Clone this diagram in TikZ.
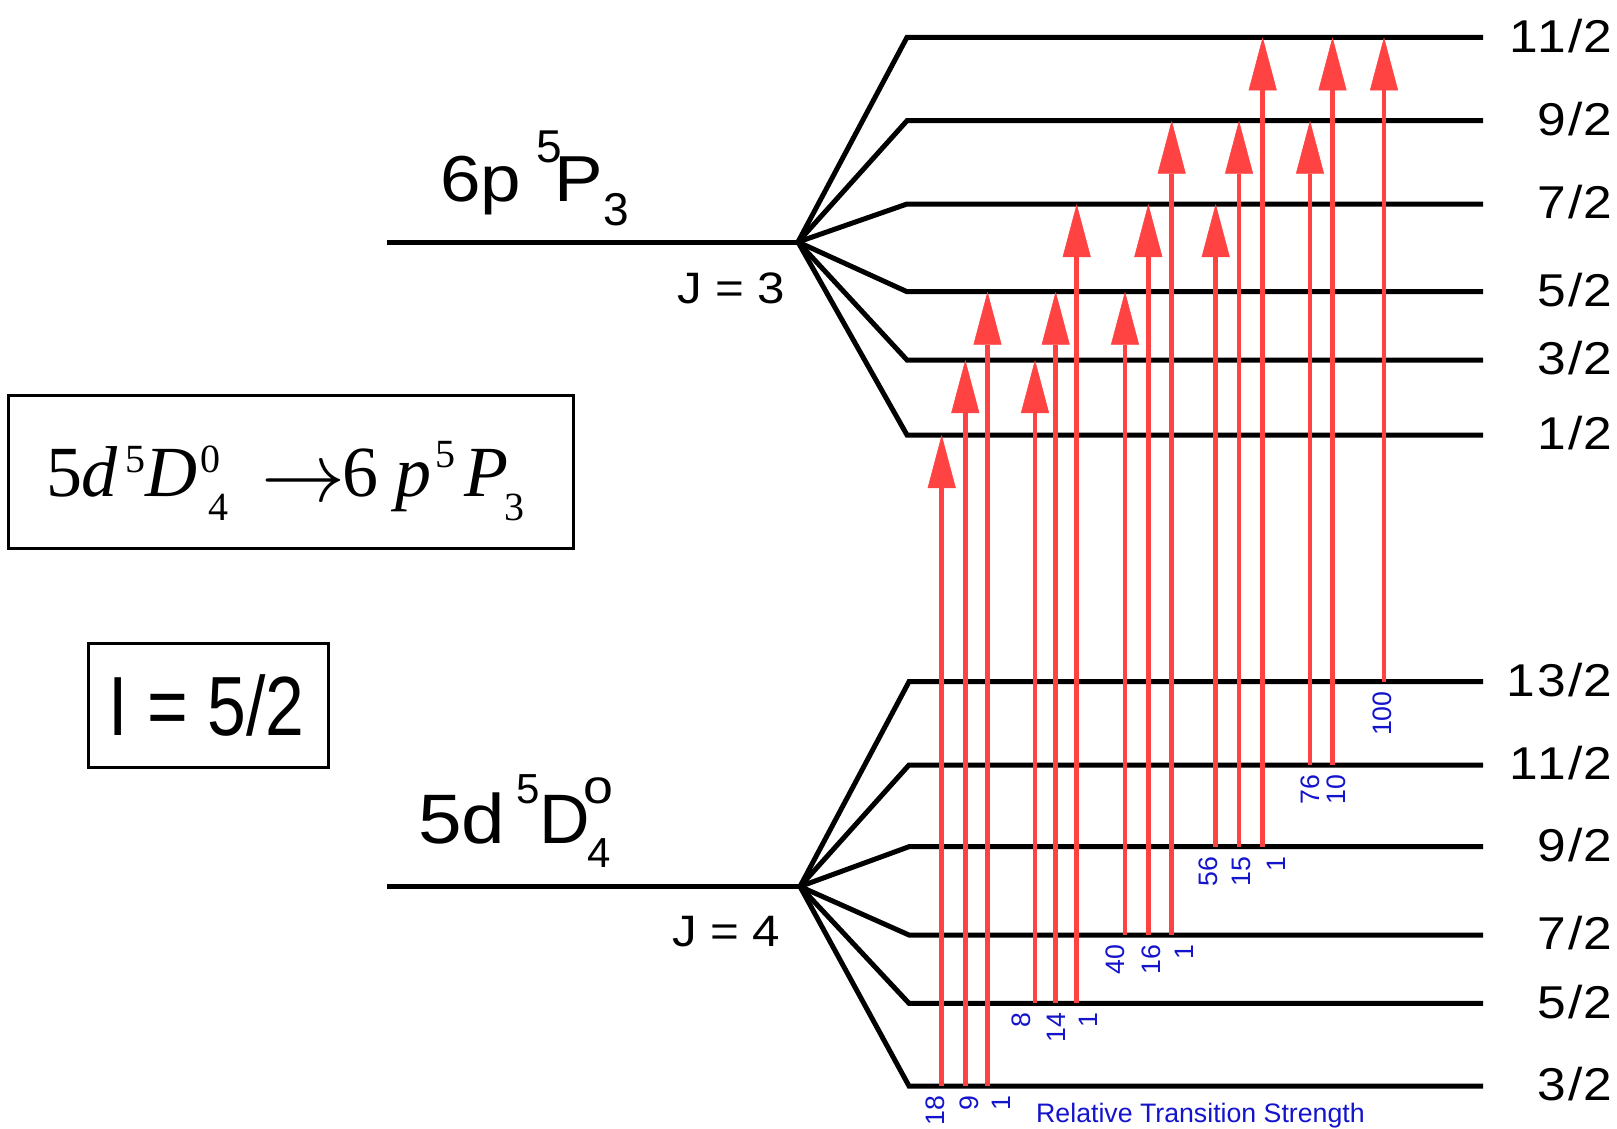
\documentclass[tikz,border=0pt]{standalone}
\usepackage{fontspec}
\usepackage{graphicx}
\setmainfont{Liberation Sans}
\newfontfamily\wsans[FakeStretch=1.12]{Liberation Sans}
\newfontfamily\lvlfont[FakeStretch=1.12,LetterSpace=6]{Liberation Sans}
\newfontfamily\nsans[FakeStretch=0.83]{Liberation Sans}
\newfontfamily\tms{Liberation Serif}
\usetikzlibrary{arrows.meta}
\definecolor{arrred}{RGB}{255,66,66}
\definecolor{labblue}{RGB}{20,20,205}
\newcommand\fs[1]{\fontsize{#1}{#1}\selectfont}
\begin{document}
\begin{tikzpicture}[x=1pt,y=-1pt,
  lvline/.style={line width=5pt, line join=miter},
  transarrow/.style={draw=arrred, line width=4.5pt, -{Triangle[length=53pt,width=28pt,line width=0.5pt]}},
  strlab/.style={text=labblue, rotate=90, anchor=east, inner sep=0pt, font=\fs{26.7}},
  lvtext/.style={anchor=east, inner sep=0pt, font=\lvlfont\fs{46}},
  ptext/.style={inner sep=0pt, anchor=base west},
  framebox/.style={draw, line width=3pt, inner sep=0pt}]
\useasboundingbox (0,0) rectangle (1617,1128);
\fill[white] (0,0) rectangle (1617,1128);

% upper manifold 6p 5P3
\coordinate (pl) at (387,242);
\coordinate (uc) at (798,242);
\draw[lvline] (pl) -- (uc);
\foreach \y/\t [count=\i] in {37.3/11\slash 2,120.7/9\slash 2,204/7\slash 2,291.7/5\slash 2,360/3\slash 2,435/1\slash 2} {
  \coordinate (uA\i) at (907,\y);
  \coordinate (uB\i) at (1483,\y);
  \draw[lvline] (uc) -- (uA\i) -- (uB\i);
  \node[lvtext] (ut\i) at (1612,\y-1.5) {\t};
}

% lower manifold 5d 5D4
\coordinate (ql) at (387,886.5);
\coordinate (lc) at (800,886.5);
\draw[lvline] (ql) -- (lc);
\foreach \y/\t [count=\i] in {681.7/13\slash 2,765/11\slash 2,846.7/9\slash 2,935/7\slash 2,1003.3/5\slash 2,1086/3\slash 2} {
  \coordinate (lA\i) at (909,\y);
  \coordinate (lB\i) at (1483,\y);
  \draw[lvline] (lc) -- (lA\i) -- (lB\i);
  \node[lvtext] (lt\i) at (1612,\y-1.5) {\t};
}

% transitions
\foreach \x/\lo/\hi/\lab/\lx [count=\i] in {
  941.7/1086/435/18/935,
  965.3/1086/360/9/968.9,
  987.5/1086/291.7/1/1001.7,
  1035/1003.3/360/8/1021.7,
  1055.7/1003.3/291.7/14/1056,
  1076.7/1003.3/204/1/1088,
  1125/935/291.7/40/1115,
  1148.3/935/204/16/1150.8,
  1171.7/935/120.7/1/1184,
  1215.7/846.7/204/56/1208,
  1239/846.7/120.7/15/1241.7,
  1262.7/846.7/37.3/1/1276,
  1310/765/120.7/76/1310.7,
  1332.5/765/37.3/10/1336,
  1384/681.7/37.3/100/1382.5} {
  \coordinate (ts\i) at (\x,\lo);
  \coordinate (te\i) at (\x,\hi);
  \draw[transarrow] (ts\i) -- (te\i);
  \node[strlab] (tl\i) at (\lx,\lo+9.5) {\lab};
}
\node[ptext, text=labblue, font=\fs{26.7}] (rts) at (1036,1122.7) {Relative Transition Strength};

% state labels
\node[ptext] (s6p) at (440,201.7) {{\wsans\fs{65}6p}\kern15pt\raisebox{39.7pt}{\fs{46}5}\kern-7.3pt{\wsans\fs{65}P}\raisebox{-23.3pt}{\fs{46}3}};
\node[ptext, font=\wsans\fs{44}] (j3) at (677,303.3) {J = 3};

\node[ptext] (s5d) at (418,843.3) {{\wsans\fs{70}5d}\kern10.8pt\raisebox{40.3pt}{\fs{42}5}{\fs{70}D}\kern-6.9pt\rlap{\raisebox{40.3pt}{\wsans\fs{48}o}}\kern4.5pt\raisebox{-23.7pt}{\fs{42}4}};
\node[ptext, font=\wsans\fs{44}] (j4) at (672,946.7) {J = 4};

% box 1
\node[framebox, minimum width=565pt, minimum height=153.3pt] (box1) at (290.9,471.7) {};
\node[ptext, font=\tms\fs{72}] (eqn) at (46,496.7) {5\kern-1pt\textit{d}\kern8pt\raisebox{24.7pt}{\fs{40}5}\textit{D}\kern3pt\rlap{\raisebox{24.7pt}{\fs{40}0}}\kern8pt\raisebox{-23.3pt}{\fs{40}4}\kern33.3pt\raisebox{-4.3pt}{\scalebox{8.4}{\fs{10}$\rightarrow$}}\kern-3.3pt6\kern17pt\textit{p}\kern4pt\raisebox{29.7pt}{\fs{40}5}\kern9pt\textit{P}\kern-4pt\raisebox{-23.3pt}{\fs{40}3}};

% box 2
\node[framebox, minimum width=239.6pt, minimum height=124pt] (box2) at (208.6,705.3) {};
\node[inner sep=0pt, font=\nsans\fs{84}] (ival) at (206.4,705.3) {I = 5/2};
\end{tikzpicture}
\end{document}
